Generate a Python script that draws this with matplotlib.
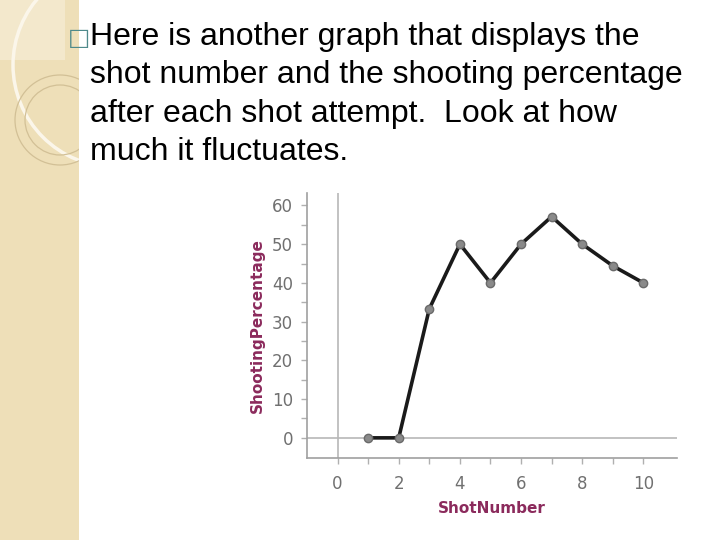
import matplotlib.pyplot as plt
from matplotlib.patches import Rectangle, Circle

# data
shot_number = [1, 2, 3, 4, 5, 6, 7, 8, 9, 10]
shooting_pct = [0, 0, 33.3, 50, 40, 50, 57.1, 50, 44.4, 40]
x_ticks = [0, 2, 4, 6, 8, 10]
y_ticks = [0, 10, 20, 30, 40, 50, 60]

lines = [
    "Here is another graph that displays the",
    "shot number and the shooting percentage",
    "after each shot attempt.  Look at how",
    "much it fluctuates.",
]

W, H = 720, 540
fig = plt.figure(figsize=(7.2, 5.4), dpi=100)
fig.patch.set_facecolor("white")

# decorative tan strip on the left, drawn in pixel coords
deco = fig.add_axes([0, 0, 1, 1], zorder=0)
deco.set_xlim(0, W)
deco.set_ylim(H, 0)
deco.axis("off")
deco.add_patch(Rectangle((0, 0), 79, H, facecolor="#eedfb8", edgecolor="none"))
deco.add_patch(Rectangle((0, 0), 65, 60, facecolor="#f3e8cc", edgecolor="none"))
clip = Rectangle((0, 0), 79, H, transform=deco.transData)
for c in [
    Circle((115, 65), 102, fill=False, edgecolor="#fbf6ea", lw=2.5),
    Circle((60, 120), 45, fill=False, edgecolor="#d2c096", lw=0.9),
    Circle((60, 120), 35, fill=False, edgecolor="#d2c096", lw=0.9),
]:
    deco.add_patch(c)
    c.set_clip_path(clip)

# bullet + text
fig.text(90 / W, 1 - 38 / H, "\u25a1", color="#4f8a8b", fontsize=17,
         family="DejaVu Sans", va="center", ha="right")
for i, line in enumerate(lines):
    fig.text(90 / W, 1 - (37 + 38.5 * i) / H, line, fontsize=23,
             family="Liberation Sans", va="center", ha="left", color="black")

# chart
ax = fig.add_axes([307 / W, 1 - 458 / H, (677 - 307) / W, (458 - 193) / H],
                  zorder=2)
ax.axhline(0, color="#b8b8b8", lw=1.2, zorder=1)
ax.axvline(0, color="#b8b8b8", lw=1.2, zorder=1)
ax.plot(shot_number, shooting_pct, color="#1a1a1a", lw=2.6, zorder=2,
        marker="o", markersize=6, markerfacecolor="#8a8a8a",
        markeredgecolor="#6a6a6a", markeredgewidth=1)
ax.set_xlim(-1, 11.1)
ax.set_ylim(-5.2, 63.2)
ax.set_xticks(x_ticks)
ax.set_xticks(range(1, 11, 2), minor=True)
ax.set_yticks(y_ticks)
ax.set_yticks(range(5, 65, 10), minor=True)
for s in ["top", "right"]:
    ax.spines[s].set_visible(False)
for s in ["left", "bottom"]:
    ax.spines[s].set_color("#a0a0a0")
    ax.spines[s].set_linewidth(1.2)
ax.tick_params(which="both", colors="#b0b0b0", length=4, width=1,
               labelcolor="#707070", labelsize=12)
ax.tick_params(axis="y", pad=6)
ax.tick_params(axis="x", pad=8)
ax.set_xlabel("ShotNumber", color="#8b2a5c", fontsize=11, fontweight="bold",
              labelpad=6)
ax.set_ylabel("ShootingPercentage", color="#8b2a5c", fontsize=11,
              fontweight="bold", labelpad=5)
ax.patch.set_alpha(0)

fig.savefig("out.png", dpi=100)
